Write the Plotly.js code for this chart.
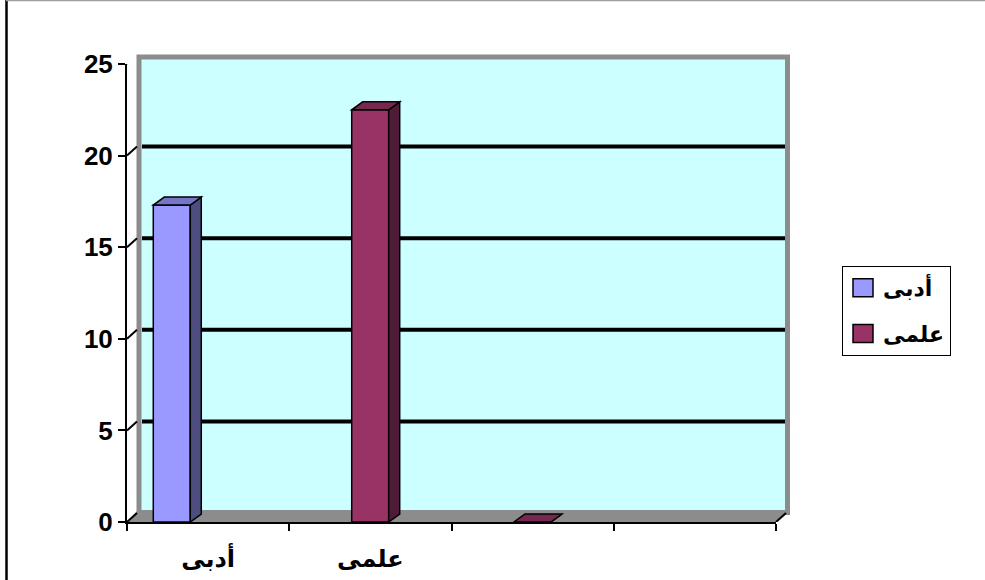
<!DOCTYPE html>
<html>
<head>
<meta charset="utf-8">
<script src="https://cdn.plot.ly/plotly-3.0.1.min.js"></script>
<style>html,body{margin:0;padding:0;background:#fff;}#chart{width:985px;height:580px;}</style>
</head>
<body>
<div id="chart"></div>
<script>
// ---- data ----
const categories = ['أدبى', 'علمى', '', ''];
const seriesNames = ['أدبى', 'علمى'];
const adabiValues = [17.3, null, null, null];
const ilmiValues = [null, 22.5, 0, null];
const yTicks = [0, 5, 10, 15, 20, 25];

// ---- style / geometry ----
const W = 985, H = 580;
const M = {l: 127, r: 209, t: 64, b: 58};
const PW = W - M.l - M.r, PH = H - M.t - M.b;
const X_RANGE = [-0.5, categories.length - 0.5];
const Y_RANGE = [0, 25];
const pxPerX = PW / (X_RANGE[1] - X_RANGE[0]);
const pxPerY = PH / (Y_RANGE[1] - Y_RANGE[0]);
const BAR_W = 0.228;
const OFFSETS = [-0.338, -0.115];
const FRONT = ['#9999FF', '#993366'];
const TOP = ['#7676C6', '#762850'];
const SIDE = ['#4D4D80', '#4F1B36'];
const BAR_DX = 11 / pxPerX, BAR_DY = 8 / pxPerY;
const WALL_DY = 9 / pxPerY;
const FONT = 'Liberation Sans, Arial, DejaVu Sans, sans-serif';
const bold = s => s ? '<b>' + s + '</b>' : '';

const xp = px => (px - M.l) / PW;
const yp = py => (H - M.b - py) / PH;

const series = [adabiValues, ilmiValues];
const idx = categories.map((_, i) => i);

const traces = series.map((vals, s) => ({
  type: 'bar',
  name: bold(seriesNames[s]),
  x: idx,
  y: vals,
  width: BAR_W,
  offset: OFFSETS[s],
  marker: {color: FRONT[s], line: {color: '#000', width: 1.5}},
  legendgroup: 'g' + s,
  hoverinfo: 'skip'
}));

const shapes = [];
// back wall
shapes.push({type: 'rect', xref: 'paper', yref: 'paper', layer: 'below',
  x0: xp(139), x1: xp(787.5), y0: yp(512.5), y1: yp(57),
  fillcolor: '#CCFFFF', line: {color: '#8C8C8C', width: 5}});
// floor
shapes.push({type: 'path', xref: 'paper', yref: 'paper', layer: 'below',
  path: `M ${xp(127)},${yp(522)} L ${xp(776)},${yp(522)} L ${xp(790)},${yp(511)} L ${xp(137)},${yp(511)} Z`,
  fillcolor: '#8C8C8C', line: {width: 0}});
// wall gridlines
yTicks.filter(v => v > Y_RANGE[0] && v < Y_RANGE[1]).forEach(v => {
  shapes.push({type: 'line', xref: 'paper', yref: 'y', layer: 'below',
    x0: xp(142), x1: xp(785), y0: v + WALL_DY, y1: v + WALL_DY,
    line: {color: '#000', width: 4}});
});
// 3D connectors from the front axis to the back wall
yTicks.forEach(v => {
  shapes.push({type: 'line', xref: 'paper', yref: 'y', layer: 'below',
    x0: 0, x1: xp(137), y0: v, y1: v + WALL_DY,
    line: {color: v === Y_RANGE[1] ? '#8C8C8C' : '#000', width: 2}});
});
shapes.push({type: 'line', xref: 'paper', yref: 'y', layer: 'below',
  x0: 1, x1: xp(786), y0: 0, y1: WALL_DY, line: {color: '#000', width: 2}});
// 3D faces of bars
series.forEach((vals, s) => {
  vals.forEach((v, i) => {
    if (v === null) return;
    const l = i + OFFSETS[s], r = l + BAR_W;
    shapes.push({type: 'path', xref: 'x', yref: 'y', layer: 'above',
      path: `M ${r},0 L ${r + BAR_DX},${BAR_DY} L ${r + BAR_DX},${v + BAR_DY} L ${r},${v} Z`,
      fillcolor: SIDE[s], line: {color: '#000', width: 1.5}});
    shapes.push({type: 'path', xref: 'x', yref: 'y', layer: 'above',
      path: `M ${l},${v} L ${r},${v} L ${r + BAR_DX},${v + BAR_DY} L ${l + BAR_DX},${v + BAR_DY} Z`,
      fillcolor: TOP[s], line: {color: '#000', width: 1.5}});
  });
});
// chart frame
shapes.push({type: 'line', xref: 'paper', yref: 'paper', layer: 'above',
  x0: xp(6.5), x1: xp(6.5), y0: yp(H + 2), y1: yp(-2), line: {color: '#000', width: 2.5}});
shapes.push({type: 'line', xref: 'paper', yref: 'paper', layer: 'above',
  x0: xp(6), x1: xp(W + 2), y0: yp(0.5), y1: yp(0.5), line: {color: '#A0A0A0', width: 1.5}});

const boundaries = categories.map((_, i) => i - 0.5).concat([categories.length - 0.5]);

const layout = {
  width: W, height: H,
  margin: M,
  paper_bgcolor: '#fff',
  plot_bgcolor: 'rgba(0,0,0,0)',
  barmode: 'overlay',
  font: {family: FONT, color: '#000'},
  xaxis: {
    type: 'linear', range: X_RANGE, fixedrange: true,
    tickmode: 'array', tickvals: idx, ticktext: categories.map(bold),
    ticks: '', showgrid: false, zeroline: false,
    showline: true, linecolor: '#000', linewidth: 2,
    tickfont: {size: 24, family: FONT},
    ticklabelstandoff: 14,
    minor: {tickmode: 'array', tickvals: boundaries, ticks: 'outside', ticklen: 7, tickwidth: 2, tickcolor: '#000', showgrid: false}
  },
  yaxis: {
    range: Y_RANGE, fixedrange: true,
    tickmode: 'array', tickvals: yTicks, ticktext: yTicks.map(v => bold(String(v))),
    ticks: 'outside', ticklen: 7, tickwidth: 2, tickcolor: '#000',
    showgrid: false, zeroline: false,
    showline: true, linecolor: '#000', linewidth: 2,
    tickfont: {size: 26, family: FONT}
  },
  showlegend: true,
  legend: {
    x: xp(842), y: yp(266), xanchor: 'left', yanchor: 'top',
    bgcolor: '#fff', bordercolor: '#000', borderwidth: 1,
    font: {size: 22, family: FONT},
    tracegroupgap: 14, traceorder: 'grouped'
  },
  shapes: shapes
};

Plotly.newPlot('chart', traces, layout, {displayModeBar: false, staticPlot: true}).then(gd => {
  gd.querySelectorAll('.legendpoints path').forEach(p => {
    p.setAttribute('d', 'M10,9H-10V-9H10Z');
    p.style.strokeWidth = '1.5px';
    p.style.stroke = '#000';
  });
});
</script>
</body>
</html>
